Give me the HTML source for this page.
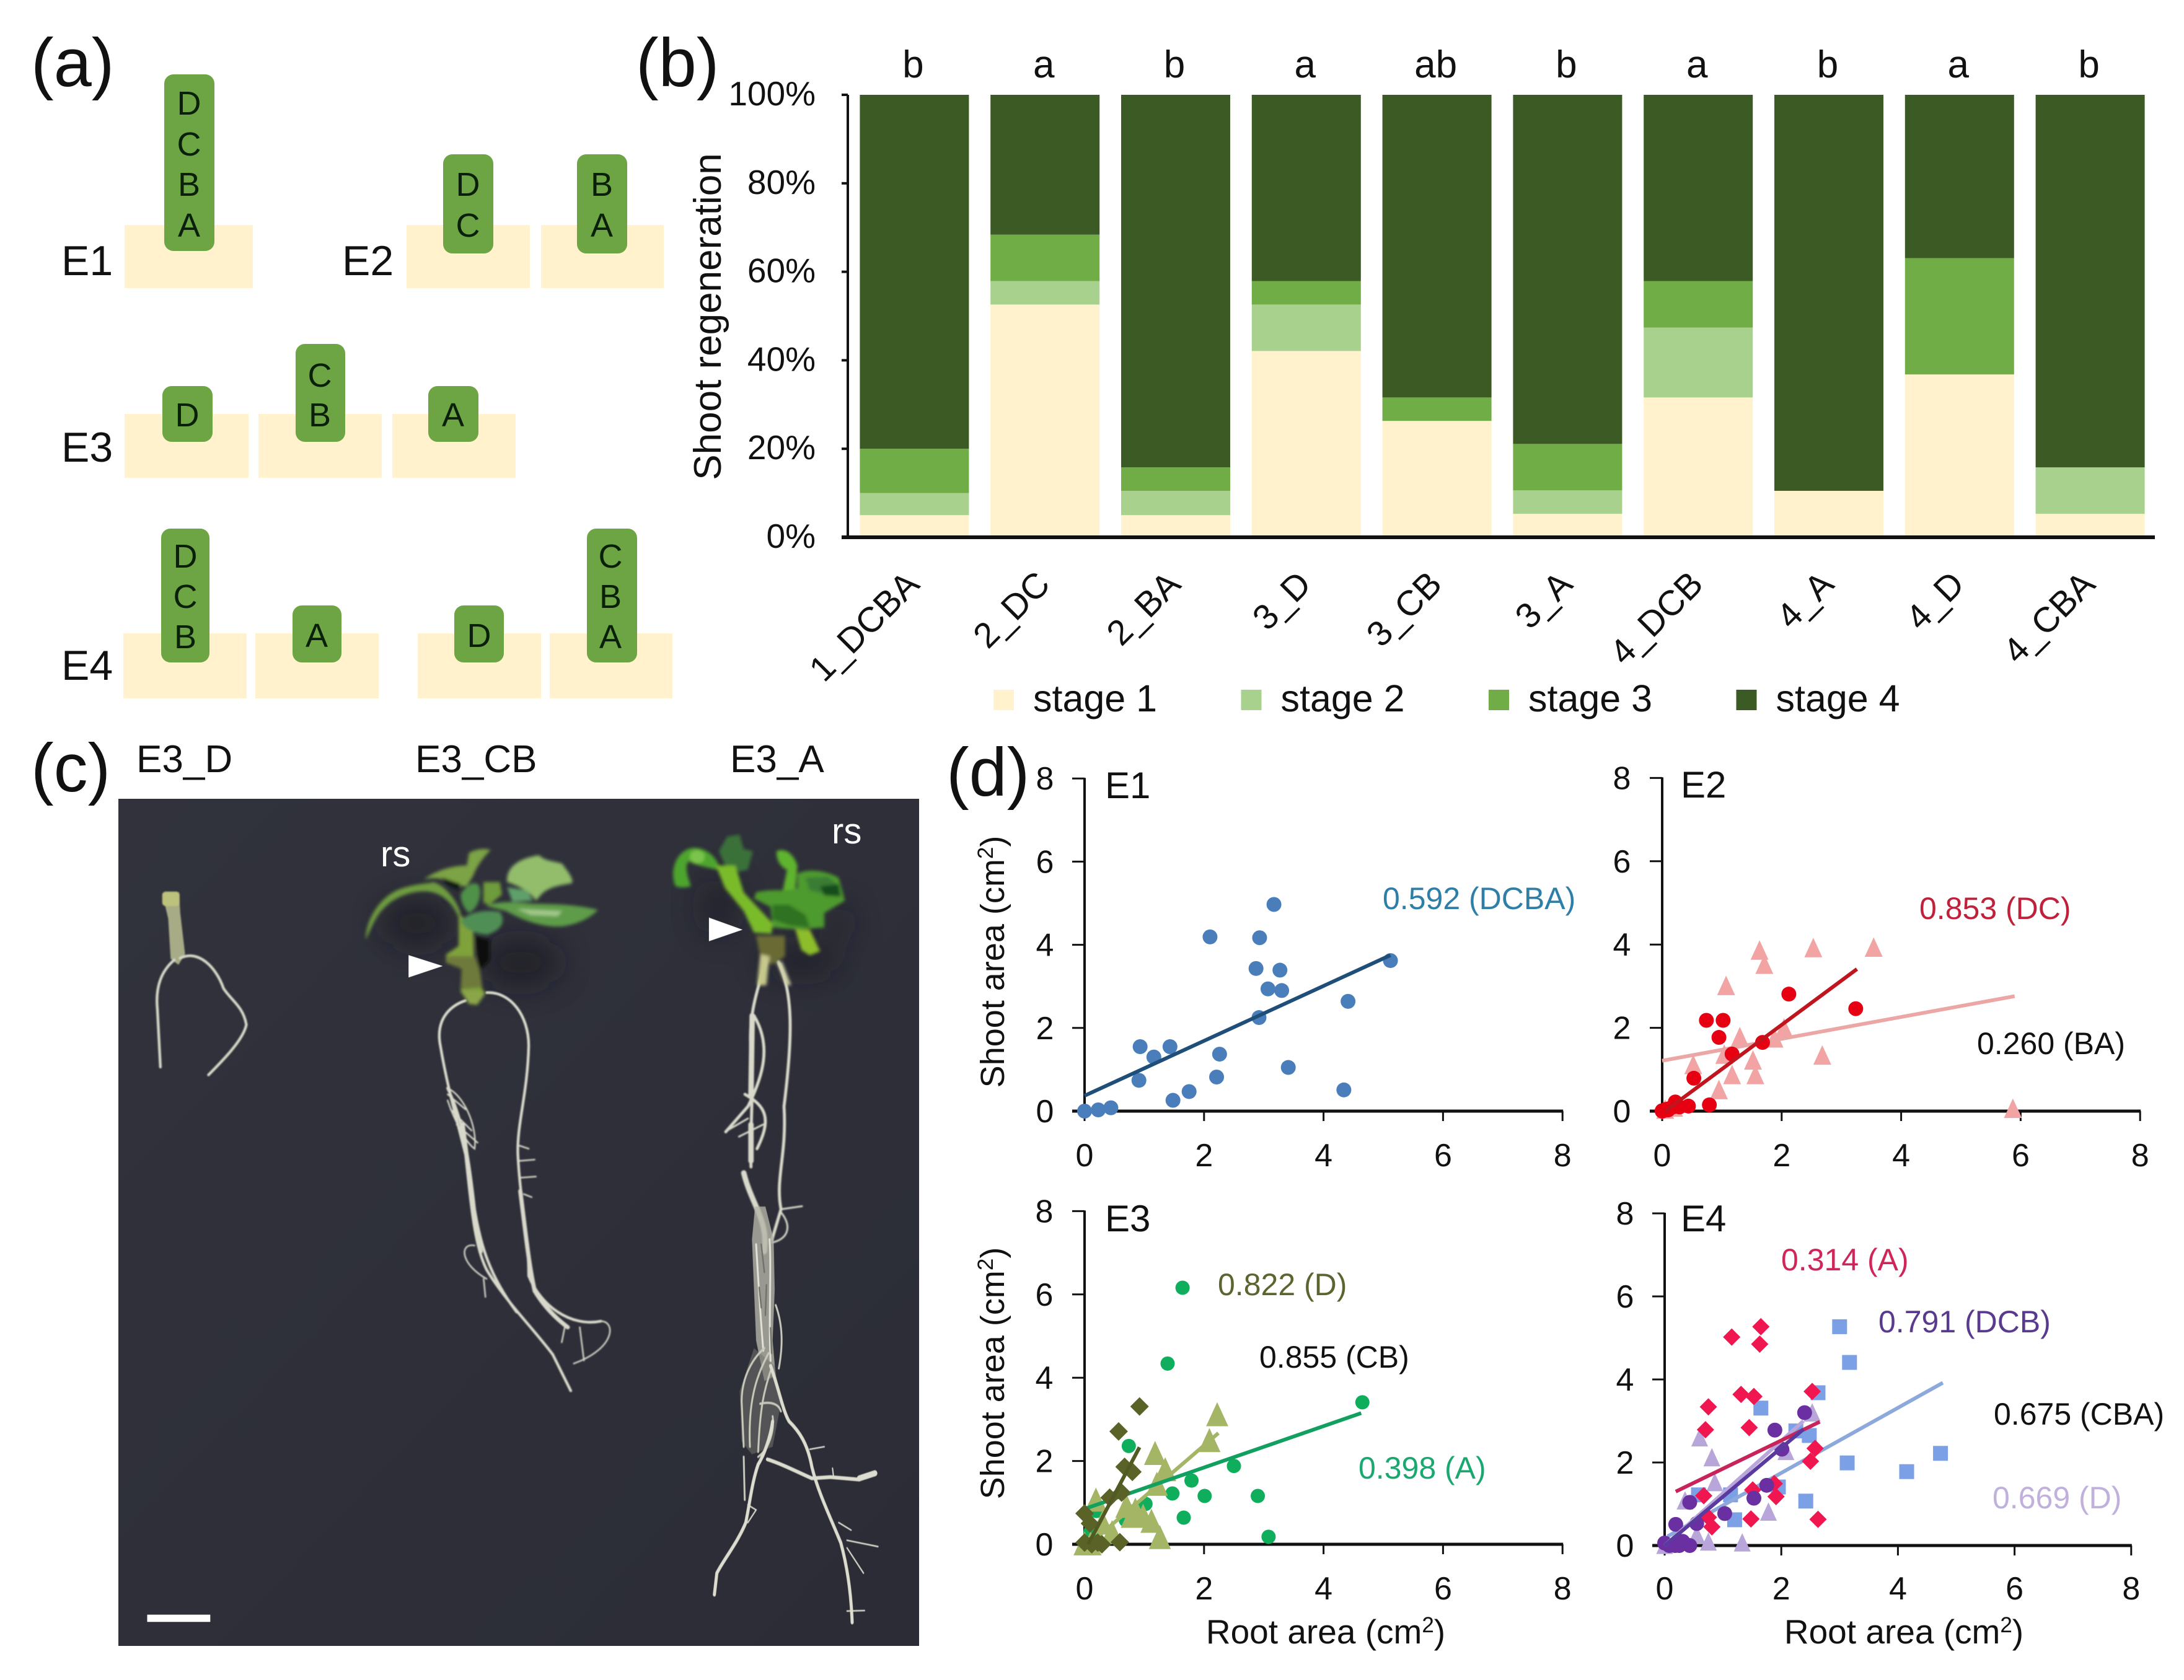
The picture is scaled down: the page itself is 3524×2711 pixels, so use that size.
<!DOCTYPE html>
<html lang="en">
<head>
<meta charset="utf-8">
<title>Shoot regeneration figure</title>
<style>
html,body{margin:0;padding:0;background:#fff;}
svg{display:block;}
text{font-family:"Liberation Sans",sans-serif;fill:#111;}
.lt{font-size:54px;text-anchor:middle;fill:#0a200a;}
.el{font-size:68px;}
.pl{font-size:110px;}
</style>
</head>
<body>
<svg id="fig" xmlns="http://www.w3.org/2000/svg" width="3524" height="2711" viewBox="0 0 3524 2711">
<defs>
<filter id="shadowBlur" filterUnits="userSpaceOnUse" x="-300" y="-400" width="2400" height="2400"><feGaussianBlur stdDeviation="75"/></filter>
<filter id="soft" x="-10%" y="-10%" width="120%" height="120%"><feGaussianBlur stdDeviation="1"/></filter>
<filter id="softBig" x="-10%" y="-10%" width="120%" height="120%"><feGaussianBlur stdDeviation="8"/></filter>
<linearGradient id="photoBg" x1="0" y1="0" x2="1" y2="1"><stop offset="0" stop-color="#31323c"/><stop offset=".5" stop-color="#2e2f39"/><stop offset="1" stop-color="#2b2c36"/></linearGradient>
</defs>
<rect width="3524" height="2711" fill="#fff"/>

<g id="panel-a">
<text class="pl" x="50" y="139">(a)</text>
<text class="el" x="99" y="444">E1</text>
<text class="el" x="552" y="444">E2</text>
<text class="el" x="99" y="745">E3</text>
<text class="el" x="99" y="1097">E4</text>
<g fill="#fff2cc">
<rect x="201" y="363" width="207" height="102"/>
<rect x="656" y="363" width="199" height="102"/>
<rect x="873" y="363" width="198" height="102"/>
<rect x="201" y="668" width="200" height="103"/>
<rect x="417" y="668" width="199" height="103"/>
<rect x="633" y="668" width="199" height="103"/>
<rect x="199" y="1022" width="199" height="105"/>
<rect x="412" y="1022" width="199" height="105"/>
<rect x="674" y="1022" width="199" height="105"/>
<rect x="887" y="1022" width="198" height="105"/>
</g>
<g fill="#6da544">
<rect x="265" y="120" width="81" height="285" rx="15"/>
<rect x="715" y="249" width="81" height="160" rx="15"/>
<rect x="931" y="249" width="81" height="160" rx="15"/>
<rect x="262" y="623" width="81" height="90" rx="15"/>
<rect x="477" y="555" width="80" height="158" rx="15"/>
<rect x="691" y="623" width="81" height="90" rx="15"/>
<rect x="260" y="853" width="78" height="216" rx="15"/>
<rect x="472" y="977" width="79" height="92" rx="15"/>
<rect x="733" y="977" width="80" height="92" rx="15"/>
<rect x="947" y="853" width="81" height="216" rx="15"/>
</g>
<g transform="translate(0,2)">
<text class="lt" x="305" y="183">D</text>
<text class="lt" x="305" y="249">C</text>
<text class="lt" x="305" y="314">B</text>
<text class="lt" x="305" y="380">A</text>
<text class="lt" x="755" y="314">D</text>
<text class="lt" x="755" y="380">C</text>
<text class="lt" x="971" y="314">B</text>
<text class="lt" x="971" y="380">A</text>
<text class="lt" x="302" y="686">D</text>
<text class="lt" x="516" y="622">C</text>
<text class="lt" x="516" y="686">B</text>
<text class="lt" x="731" y="686">A</text>
<text class="lt" x="299" y="914">D</text>
<text class="lt" x="299" y="979">C</text>
<text class="lt" x="299" y="1044">B</text>
<text class="lt" x="511" y="1042">A</text>
<text class="lt" x="773" y="1042">D</text>
<text class="lt" x="985" y="914">C</text>
<text class="lt" x="985" y="979">B</text>
<text class="lt" x="985" y="1044">A</text>
</g>
</g>

<g id="panel-b">
<text class="pl" x="1026" y="139">(b)</text>
<text x="1163" y="511" font-size="62" text-anchor="middle" transform="rotate(-90 1163 511)">Shoot regeneration</text>
</g>

<g id="panel-c">
<text class="pl" x="50" y="1277">(c)</text>
<text x="220" y="1246" font-size="62">E3_D</text>
<text x="670" y="1246" font-size="62">E3_CB</text>
<text x="1178" y="1246" font-size="62">E3_A</text>
<rect x="191" y="1289" width="1292" height="1367" fill="url(#photoBg)"/>

<g>
  <g transform="translate(540,1330) scale(.3333)" fill="#17181d" opacity=".6">
    <g filter="url(#shadowBlur)">
      <ellipse cx="400" cy="480" rx="170" ry="110"/>
      <ellipse cx="900" cy="670" rx="190" ry="110"/>
    </g>
  </g>
  <g transform="translate(1060,1330) scale(.3333)" fill="#17181d" opacity=".55">
    <g filter="url(#shadowBlur)">
      <ellipse cx="300" cy="400" rx="80" ry="130"/>
      <ellipse cx="700" cy="660" rx="190" ry="70"/>
      <ellipse cx="880" cy="480" rx="50" ry="80"/>
    </g>
  </g>
</g>

<g transform="translate(0,1180) scale(.9694,.9764)" filter="url(#soft)">
  <g>
    <path d="M270,268 L298,266 L300,300 L308,368 L297,386 L284,376 L280,310 Z" fill="#a7ac86"/>
    <rect x="270" y="265" width="29" height="24" rx="6" fill="#bcc17c"/>
    <g fill="none" stroke="#d5d6c6" stroke-width="4.5" stroke-linecap="round">
      <path d="M290,378 C270,395 258,420 262,460 L267,555"/>
      <path d="M300,375 C330,360 360,390 372,425 C385,445 405,455 410,485 C405,510 370,545 347,568"/>
    </g>
  </g>
  <g fill="none" stroke="#d9d9cb" stroke-linecap="round">
    <g stroke-width="4.5">
      <path d="M775,445 C745,455 725,480 733,520 C745,590 760,640 775,700 C785,790 790,850 810,890 C840,940 890,990 920,1030 L950,1090"/>
      <path d="M810,432 C850,430 880,470 880,520 C878,600 860,650 862,700 C866,780 880,830 880,900 C900,950 950,985 1000,975"/>
      <path d="M745,590 C770,640 780,700 790,790 C800,850 815,900 860,960"/>
    </g>
    <g stroke-width="7">
      <path d="M770,650 C780,720 785,790 800,860"/>
      <path d="M866,760 C875,830 880,880 890,925 C905,950 925,970 945,985"/>
    </g>
    <g stroke-width="2.5">
      <path d="M1000,975 C1025,975 1025,1020 955,1045"/>
      <path d="M965,985 L972,1040"/>
      <path d="M940,985 L935,1010"/>
      <path d="M745,590 C770,600 795,650 790,690 C775,680 755,640 745,610"/>
      <path d="M745,600 L775,625 M750,625 L785,660 M760,650 L795,680"/>
      <path d="M790,850 C765,845 765,880 810,905"/>
      <path d="M865,685 L880,690 M865,710 L890,708 M865,738 L892,736 M872,765 L885,770"/>
      <path d="M805,905 L808,935"/>
    </g>
  </g>
  <g fill="none" stroke="#d9d9cb" stroke-linecap="round">
    <g stroke-width="5">
      <path d="M1275,380 C1260,430 1245,470 1250,530 C1255,600 1248,660 1250,720"/>
      <path d="M1295,380 C1320,430 1320,500 1305,620 C1310,700 1290,740 1300,790 L1285,840"/>
      <path d="M1255,470 C1285,520 1270,570 1245,620 L1208,662"/>
      <path d="M1240,600 C1275,620 1285,640 1260,690"/>
    </g>
    <g stroke-width="9">
      <path d="M1238,730 C1250,780 1280,810 1272,860"/>
      <path d="M1252,470 L1250,600 M1250,650 L1250,710"/>
    </g>
    <g stroke-width="3">
      <path d="M1300,790 L1335,785 M1300,795 C1320,820 1310,840 1285,845"/>
      <path d="M1210,660 L1245,640 M1230,670 L1270,650"/>
    </g>
  </g>
</g>

<g transform="translate(1100,2000) scale(.3333,.408)" filter="url(#soft)">
  <path d="M355,-130 L405,-130 L445,0 L450,200 L440,400 L455,540 L400,560 L360,400 L350,200 L340,0 Z" fill="#b4b4a8" opacity=".8"/>
  <g fill="none" stroke="#e2e2d6" stroke-width="9" stroke-linecap="round">
    <path d="M425,0 C435,120 420,300 430,480"/>
    <path d="M360,20 C370,150 380,300 395,440"/>
  </g>
  <g fill="none" stroke="#70706c" stroke-width="7" stroke-linecap="round">
    <path d="M385,20 L400,130 M410,180 L405,300 M375,190 L385,270 M430,350 L435,450"/>
  </g>
  <path d="M350,430 L450,500 L480,650 L440,820 L340,850 L290,800 L280,600 Z" fill="#74746f" opacity=".55"/>
  <g fill="none" stroke="#c9c9bb" stroke-width="9" stroke-linecap="round">
    <path d="M400,430 C330,480 290,560 290,640 L300,820"/>
    <path d="M420,450 C370,530 320,620 330,820"/>
    <path d="M430,520 C400,600 380,650 370,840"/>
    <path d="M380,650 C430,640 470,650 480,680"/>
    <path d="M440,700 C450,760 420,830 370,860"/>
    <path d="M300,860 L305,1030"/>
    <path d="M455,260 C490,340 490,420 470,510"/>
  </g>
  <g fill="none" stroke="#dcdccf" stroke-linecap="round">
    <g stroke-width="15">
      <path d="M430,500 C470,590 490,680 520,720 C570,760 610,810 630,900 C660,1000 720,1100 770,1200 C800,1290 820,1400 825,1515"/>
      <path d="M440,720 C430,780 400,850 370,890 C340,960 330,1040 310,1120 C270,1200 200,1270 170,1320 L158,1405"/>
      <path d="M415,870 C490,890 560,920 630,945 L720,940 L860,950"/>
    </g>
    <path d="M860,945 L935,925" stroke-width="24"/>
    <g stroke-width="6">
      <path d="M730,905 L735,940 M760,1120 L820,1150 M800,1190 L950,1215 M800,1220 L880,1320 M800,1470 L885,1468 M620,830 L690,820"/>
      <path d="M320,1050 L360,1070 L320,1120"/>
    </g>
  </g>
</g>

<g transform="translate(540,1330) scale(.3333)" filter="url(#softBig)">
  <path d="M680,540 L750,560 L750,660 L700,710 Z" fill="#08080c"/>
  <path d="M600,430 L670,500 L675,640 L700,700 L710,790 L730,820 L690,875 L650,870 L610,810 L615,700 L540,670 L540,630 L600,590 Z" fill="#80a23a"/>
  <path d="M545,640 L680,640 L705,720 L715,790 L610,800 L615,700 L545,670 Z" fill="#6e7a3b"/>
  <path d="M610,800 L730,815 L690,875 L650,870 Z" fill="#8ba64a"/>
  <path d="M150,560 C150,480 200,370 300,320 C370,290 430,290 480,280 C540,300 590,370 610,430 L600,450 C570,380 520,330 440,325 C340,325 260,370 210,440 C185,480 165,530 150,560 Z" fill="#6e9b3f"/>
  <path d="M430,270 C480,230 560,200 640,200 L650,140 C680,120 730,115 755,125 C720,160 690,200 670,250 L640,300 L600,300 C560,270 480,250 430,270 Z" fill="#7ca344"/>
  <path d="M520,258 L610,290 L600,320 L540,290 Z" fill="#0f1318"/>
  <path d="M720,280 L800,280 L810,340 L750,390 L720,380 Z" fill="#6e9b3a"/>
  <path d="M835,280 C830,230 860,170 990,150 C1010,175 1060,180 1100,190 C1130,230 1155,260 1150,285 C1100,295 1040,300 1000,340 L975,370 C940,320 880,295 835,280 Z" fill="#93bd6a"/>
  <path d="M835,305 L930,320 L960,370 L860,375 Z" fill="#5fa06a"/>
  <path d="M730,395 C800,370 880,375 960,385 C1060,385 1180,390 1275,415 C1220,470 1130,500 1060,495 C980,490 900,460 830,420 Z" fill="#5f9c48"/>
  <path d="M880,410 L1100,420 L1080,445 L950,440 Z" fill="#a0c88a"/>
  <path d="M610,340 C640,290 680,270 700,300 C715,350 690,410 650,430 C620,400 610,370 610,340 Z" fill="#4f9148"/>
  <path d="M610,470 C640,430 720,410 800,425 C830,470 810,510 740,535 C680,530 630,510 610,470 Z" fill="#4f8f55"/>
</g>

<g transform="translate(1060,1330) scale(.3333)" filter="url(#softBig)">
  <path d="M300,130 L340,60 L400,50 L420,120 L465,130 L440,220 L400,230 L330,200 Z" fill="#3c7d3a" opacity=".85"/>
  <path d="M90,300 C60,230 90,130 170,115 C230,110 280,150 300,200 L290,220 C250,210 190,200 155,180 C130,200 150,260 165,300 C130,310 105,305 90,300 Z" fill="#4da52e"/>
  <ellipse cx="195" cy="158" rx="36" ry="32" fill="#7cc44c"/>
  <path d="M580,130 C620,115 660,140 680,200 L670,320 L610,320 L630,220 C600,210 575,170 580,130 Z" fill="#5eb42e"/>
  <path d="M680,240 C740,210 830,230 880,260 L910,370 L810,430 L810,500 L680,510 L560,500 L550,400 L470,360 L480,330 C560,310 620,330 680,310 Z" fill="#4e9a2e"/>
  <path d="M720,260 L830,255 L880,300 L860,350 L740,320 Z" fill="#3b7c35"/>
  <path d="M790,300 L880,290 L890,350 L810,345 Z" fill="#174d1b"/>
  <path d="M560,390 L640,390 L720,440 L740,500 L640,490 L560,460 Z" fill="#2d7224"/>
  <path d="M285,200 L380,200 L420,330 L560,480 L555,530 L470,525 L420,420 L330,310 Z" fill="#7abb2a"/>
  <path d="M670,510 L740,510 L790,615 L740,635 L700,610 Z" fill="#8dbd2c"/>
  <path d="M480,540 L620,540 L620,640 L560,680 L500,640 Z" fill="#6b6a35"/>
  <path d="M500,630 L545,640 L530,780 L485,780 Z" fill="#c5c88a"/>
  <path d="M580,670 L605,665 L650,780 L625,780 Z" fill="#d0d2a8"/>
</g>

<g transform="translate(0,1180) scale(.9694,.9764)">
  <path d="M680,370 L737,388 L680,407 Z" fill="#fff"/>
  <path d="M1180,308 L1236,328 L1180,347 Z" fill="#fff"/>
  <rect x="245" y="1460" width="105" height="12" fill="#fff"/>
</g>
<text x="614" y="1398" font-size="58" style="fill:#fff">rs</text>
<text x="1342" y="1361" font-size="58" style="fill:#fff">rs</text>
</g>

<g id="panel-d">
<text class="pl" x="1527" y="1284">(d)</text>
</g>

<script>
/* ---------- Panel b values (percent of explants) ---------- */
const barCategories = ['1_DCBA','2_DC','2_BA','3_D','3_CB','3_A','4_DCB','4_A','4_D','4_CBA'];
const sigLetters = ['b','a','b','a','ab','b','a','b','a','b'];
const stageNames = ['stage 1','stage 2','stage 3','stage 4'];
const stage1 = [5,52.6,5,42.1,26.3,5.3,31.6,10.5,36.8,5.3];
const stage2 = [5,5.3,5.5,10.5,0,5.3,15.8,0,0,10.5];
const stage3 = [10,10.5,5.3,5.3,5.3,10.5,10.5,0,26.3,0];
const stage4 = [80,31.6,84.2,42.1,68.4,78.9,42.1,89.5,36.9,84.2];
const percentTicks = [0,20,40,60,80,100];

/* ---------- Panel d values (cm2) ---------- */
const xTickLabels = [0,2,4,6,8];
const yTickLabels = [0,2,4,6,8];

const e1DcbaX = [0,.23,.44,.93,.91,1.16,1.43,1.48,1.75,2.1,2.26,2.21,2.93,2.87,2.92,3.07,3.3,3.27,3.17,3.41,4.41,4.34,5.12];
const e1DcbaY = [0,.03,.08,1.55,.74,1.3,1.55,.26,.47,4.19,1.37,.82,4.17,3.43,2.25,2.94,2.9,3.39,4.97,1.05,2.64,.51,3.62];
const e1DcbaTrendX = [0,5.12];
const e1DcbaTrendY = [.37,3.75];

const e2DcX = [0,0,.03,.06,.1,.12,.18,.22,.29,.44,.79,.53,.74,1.02,.95,1.17,1.68,2.12,3.24];
const e2DcY = [.01,0,.02,.04,.03,.06,.1,.22,.1,.12,.15,.79,2.18,2.18,1.77,1.37,1.65,2.81,2.46];
const e2DcTrendX = [.05,3.26];
const e2DcTrendY = [0,3.41];
const e2BaX = [1.63,2.53,3.54,1.71,1.07,1.3,2.04,1.88,1.04,2.68,1.52,1.56,1.17,.52,.95,5.87,.2,.05];
const e2BaY = [3.85,3.91,3.92,3.51,3,1.77,1.98,1.74,1.35,1.33,1.21,.86,.86,1.1,.5,.05,.08,.03];
const e2BaTrendX = [0,5.9];
const e2BaTrendY = [1.21,2.76];

const e3AX = [1.64,1.39,4.65,.74,2.5,1.79,1.47,2.01,2.9,1.66,3.08,1.02,.69,.2,.1];
const e3AY = [6.16,4.34,3.41,2.36,1.88,1.53,1.22,1.16,1.16,.64,.18,.97,.58,.8,.3];
const e3ATrendX = [0,4.63];
const e3ATrendY = [.85,3.15];
const e3CbX = [2.22,2.09,1.18,1.35,1.21,.19,.85,.98,1.12,.79,1.26,0,.1,.46,.7,.3];
const e3CbY = [3.1,2.48,2.17,1.78,1.43,1.05,.81,.66,.54,.66,.15,0,0,.27,.9,.5];
const e3CbTrendX = [.1,2.24];
const e3CbTrendY = [.03,2.67];
const e3DX = [.92,.57,.67,.8,.62,0,.09,0,.22,.29,.59,.12,.42];
const e3DY = [3.31,2.71,1.86,1.74,1.24,.74,.5,.04,.04,0,.05,0,1.12];
const e3DTrendX = [.06,.92];
const e3DTrendY = [0,2.33];

const e4CbaX = [3,3.17,1.65,2.63,2.25,2.48,3.13,4.15,4.73,2.42,1.2,1.13,1.95,.58];
const e4CbaY = [5.27,4.41,3.31,3.68,2.76,2.65,1.99,1.78,2.22,1.07,.62,1.22,1.41,1.22];
const e4CbaTrendX = [.05,4.77];
const e4CbaTrendY = [.22,3.92];
const e4DX = [.6,.81,.86,2.53,2.08,1.78,1.33,.75,.35,0,.55];
const e4DY = [2.59,2.11,1.51,3.19,2.26,.8,.06,.08,1.07,0,.25];
const e4DTrendX = [0,2.38];
const e4DTrendY = [0,3];
const e4AX = [1.65,1.15,1.63,1.31,1.53,2.53,.75,.7,1.45,2.58,2.5,1.88,1.91,.67,.75,.81,1.48,2.63,1.51];
const e4AY = [5.27,5.02,4.85,3.64,3.59,3.71,3.34,2.79,2.84,2.34,2.03,1.49,1.18,1.2,.68,.45,.64,.63,1.34];
const e4ATrendX = [.19,2.66];
const e4ATrendY = [1.3,2.98];
const e4DcbX = [2.4,1.89,2.01,.43,1.75,1.53,1.03,.55,.19,0,.18,.31,.43,.08,.25];
const e4DcbY = [3.2,2.78,2.32,1.04,1.45,1.14,.77,.53,.51,.06,0,.1,0,0,0];
const e4DcbTrendX = [0,2.38];
const e4DcbTrendY = [0,2.8];

/* ---------- helpers ---------- */
const NS = 'http://www.w3.org/2000/svg';
function make(tag, parent, geom) {
  const el = document.createElementNS(NS, tag);
  for (const k in geom) el.setAttribute(k, geom[k]);
  parent.appendChild(el);
  return el;
}

/* ---------- Panel b ---------- */
const panelB = document.getElementById('panel-b');
const stageValues = [stage1, stage2, stage3, stage4];
const stageColors = ['#fff2cc','#a9d18e','#70ad47','#3b5a24'];
const barX = i => 1370 + 210.8 * (i + 0.5);
const barY = v => 867 - v * 7.14;
const barWidth = 176;

barCategories.forEach((cat, i) => {
  let cum = 0;
  stageValues.forEach((series, s) => {
    const v = series[i];
    const el = make('rect', panelB, {x: barX(i) - barWidth / 2, y: barY(cum + v), width: barWidth, height: barY(cum) - barY(cum + v), fill: stageColors[s]});
    
    
    cum += v;
  });
  const sig = make('text', panelB, {x: barX(i) - 2, y: 125, 'font-size': 62, 'text-anchor': 'middle'});
  sig.textContent = sigLetters[i];
  
  
  const lx = barX(i) + 11, ly = 946;
  const lab = make('text', panelB, {x: lx, y: ly, 'font-size': 57, 'text-anchor': 'end', transform: 'rotate(-45 ' + lx + ' ' + ly + ')'});
  lab.textContent = cat;
  
  
});

const bYAxis = make('line', panelB, {x1: 1368, x2: 1368, y1: barY(100), y2: barY(0), stroke: '#111', 'stroke-width': 4});


const bXAxis = make('line', panelB, {x1: 1358, x2: 3477, y1: barY(0), y2: barY(0), stroke: '#111', 'stroke-width': 6});


percentTicks.forEach(p => {
  const t = make('line', panelB, {x1: 1358, x2: 1368, y1: barY(p), y2: barY(p), stroke: '#111', 'stroke-width': 4});
  
  
  const l = make('text', panelB, {x: 1316, y: barY(p) + 17, 'font-size': 55, 'text-anchor': 'end'});
  l.textContent = p + '%';
  
  
});
stageNames.forEach((name, s) => {
  const sx = 1603 + 399.5 * s;
  const sw = make('rect', panelB, {x: sx, y: 1113, width: 33, height: 33, fill: stageColors[s]});
  
  
  const tx = make('text', panelB, {x: sx + 64, y: 1148, 'font-size': 61});
  tx.textContent = name;
  
  
});

/* ---------- Panel d ---------- */
const panelD = document.getElementById('panel-d');
const axisE1 = {x: v => 1750 + 96.4 * v, y: v => 1793 - 67.1 * v};
const axisE2 = {x: v => 2682 + 96.4 * v, y: v => 1793 - 67.2 * v};
const axisE3 = {x: v => 1750 + 96.4 * v, y: v => 2492 - 67.2 * v};
const axisE4 = {x: v => 2686 + 94.1 * v, y: v => 2494 - 67 * v};

function drawAxes(ax, yLabelX, xLabelY) {
  const y = make('line', panelD, {x1: ax.x(0), x2: ax.x(0), y1: ax.y(8) - 1, y2: ax.y(0), stroke: '#111', 'stroke-width': 4});
  
  
  const x = make('line', panelD, {x1: ax.x(0) - 20, x2: ax.x(8) + 1, y1: ax.y(0), y2: ax.y(0), stroke: '#111', 'stroke-width': 5});
  
  
  yTickLabels.forEach(v => {
    const t = make('line', panelD, {x1: ax.x(0) - 20, x2: ax.x(0), y1: ax.y(v), y2: ax.y(v), stroke: '#111', 'stroke-width': 3});
    
    
    const l = make('text', panelD, {x: yLabelX, y: ax.y(v) + 18, 'font-size': 52, 'text-anchor': 'middle'});
    l.textContent = v;
    
    
  });
  xTickLabels.forEach(v => {
    const t = make('line', panelD, {x1: ax.x(v), x2: ax.x(v), y1: ax.y(0), y2: ax.y(0) + 16, stroke: '#111', 'stroke-width': 3});
    
    
    const l = make('text', panelD, {x: ax.x(v), y: xLabelY, 'font-size': 52, 'text-anchor': 'middle'});
    l.textContent = v;
    
    
  });
}

function marker(shape, cx, cy, size, color) {
  let el;
  if (shape === 'circle') {
    el = make('circle', panelD, {cx: cx, cy: cy, r: size, fill: color});
  } else if (shape === 'square') {
    el = make('rect', panelD, {x: cx - size, y: cy - size, width: size * 2, height: size * 2, fill: color});
  } else if (shape === 'diamond') {
    el = make('path', panelD, {d: 'M' + cx + ',' + (cy - size) + 'L' + (cx + size) + ',' + cy + 'L' + cx + ',' + (cy + size) + 'L' + (cx - size) + ',' + cy + 'Z', fill: color});
  } else {
    el = make('path', panelD, {d: 'M' + cx + ',' + (cy - size) + 'L' + (cx + size * .85) + ',' + (cy + size * .85) + 'L' + (cx - size * .85) + ',' + (cy + size * .85) + 'Z', fill: color});
  }
  return el;
}
function drawPoints(ax, xs, ys, shape, size, color) {
  xs.forEach((xv, i) => {
    const m = marker(shape, ax.x(xv), ax.y(ys[i]), size, color);
    
    
  });
}
function drawTrend(ax, xs, ys, color) {
  const l = make('line', panelD, {x1: ax.x(xs[0]), y1: ax.y(ys[0]), x2: ax.x(xs[1]), y2: ax.y(ys[1]), stroke: color, 'stroke-width': 6});
  
  
}
function note(x, y, txt, color) {
  const t = make('text', panelD, {x: x, y: y, 'font-size': 50, style: 'fill:' + color});
  t.textContent = txt;
  
  
}
function plotTitle(x, y, txt) {
  const t = make('text', panelD, {x: x, y: y, 'font-size': 60});
  t.textContent = txt;
  
  
}
function yTitle(cx, cy) {
  const t = make('text', panelD, {x: cx, y: cy, 'font-size': 54, 'text-anchor': 'middle', transform: 'rotate(-90 ' + cx + ' ' + cy + ')'});
  t.appendChild(document.createTextNode('Shoot area (cm'));
  const sup = make('tspan', t, {dy: -18, 'font-size': 35});
  sup.textContent = '2';
  const end = make('tspan', t, {dy: 18});
  end.textContent = ')';
  
  
}
function xTitle(cx, y) {
  const t = make('text', panelD, {x: cx, y: y, 'font-size': 55, 'text-anchor': 'middle'});
  t.appendChild(document.createTextNode('Root area (cm'));
  const sup = make('tspan', t, {dy: -18, 'font-size': 35});
  sup.textContent = '2';
  const end = make('tspan', t, {dy: 18});
  end.textContent = ')';
  
  
}

/* E1 */
drawAxes(axisE1, 1686, 1882);
drawPoints(axisE1, e1DcbaX, e1DcbaY, 'circle', 12, '#4a7ebb');
drawTrend(axisE1, e1DcbaTrendX, e1DcbaTrendY, '#1f4e79');
plotTitle(1783, 1288, 'E1');
note(2231, 1467, '0.592 (DCBA)', '#2e7fa8');
yTitle(1620, 1552);

/* E2 */
drawAxes(axisE2, 2617, 1882);
drawPoints(axisE2, e2BaX, e2BaY, 'triangle', 17, '#f2a3a3');
drawTrend(axisE2, e2BaTrendX, e2BaTrendY, '#eba6a6');
drawPoints(axisE2, e2DcX, e2DcY, 'circle', 12, '#e60012');
drawTrend(axisE2, e2DcTrendX, e2DcTrendY, '#c0141e');
plotTitle(2712, 1287, 'E2');
note(3097, 1483, '0.853 (DC)', '#c0203a');
note(3190, 1701, '0.260 (BA)', '#111');

/* E3 */
drawAxes(axisE3, 1685, 2581);
drawPoints(axisE3, e3AX, e3AY, 'circle', 11.5, '#0fae5c');
drawPoints(axisE3, e3CbX, e3CbY, 'triangle', 21, '#a4b665');
drawTrend(axisE3, e3CbTrendX, e3CbTrendY, '#a4b665');
drawTrend(axisE3, e3ATrendX, e3ATrendY, '#12a060');
drawPoints(axisE3, e3DX, e3DY, 'diamond', 15, '#5a6228');
drawTrend(axisE3, e3DTrendX, e3DTrendY, '#525a24');
plotTitle(1783, 1987, 'E3');
note(1965, 2090, '0.822 (D)', '#5b6530');
note(2032, 2207, '0.855 (CB)', '#111');
note(2192, 2386, '0.398 (A)', '#1aa870');
yTitle(1620, 2216);
xTitle(2139, 2652);

/* E4 */
drawAxes(axisE4, 2622, 2581);
drawPoints(axisE4, e4CbaX, e4CbaY, 'square', 12, '#7ba0e6');
drawPoints(axisE4, e4DX, e4DY, 'triangle', 16, '#b8a5da');
drawTrend(axisE4, e4CbaTrendX, e4CbaTrendY, '#8da9dc');
drawPoints(axisE4, e4AX, e4AY, 'diamond', 14, '#f01650');
drawPoints(axisE4, e4DcbX, e4DcbY, 'circle', 12, '#6a2fa0');
drawTrend(axisE4, e4DTrendX, e4DTrendY, '#b9a6dc');
drawTrend(axisE4, e4ATrendX, e4ATrendY, '#c9245a');
drawTrend(axisE4, e4DcbTrendX, e4DcbTrendY, '#5a3a9e');
plotTitle(2712, 1987, 'E4');
note(2874, 2050, '0.314 (A)', '#d02558');
note(3031, 2150, '0.791 (DCB)', '#5a3a8e');
note(3217, 2299, '0.675 (CBA)', '#111');
note(3215, 2434, '0.669 (D)', '#c0b0dc');
xTitle(3072, 2652);
</script>
</svg>
</body>
</html>
